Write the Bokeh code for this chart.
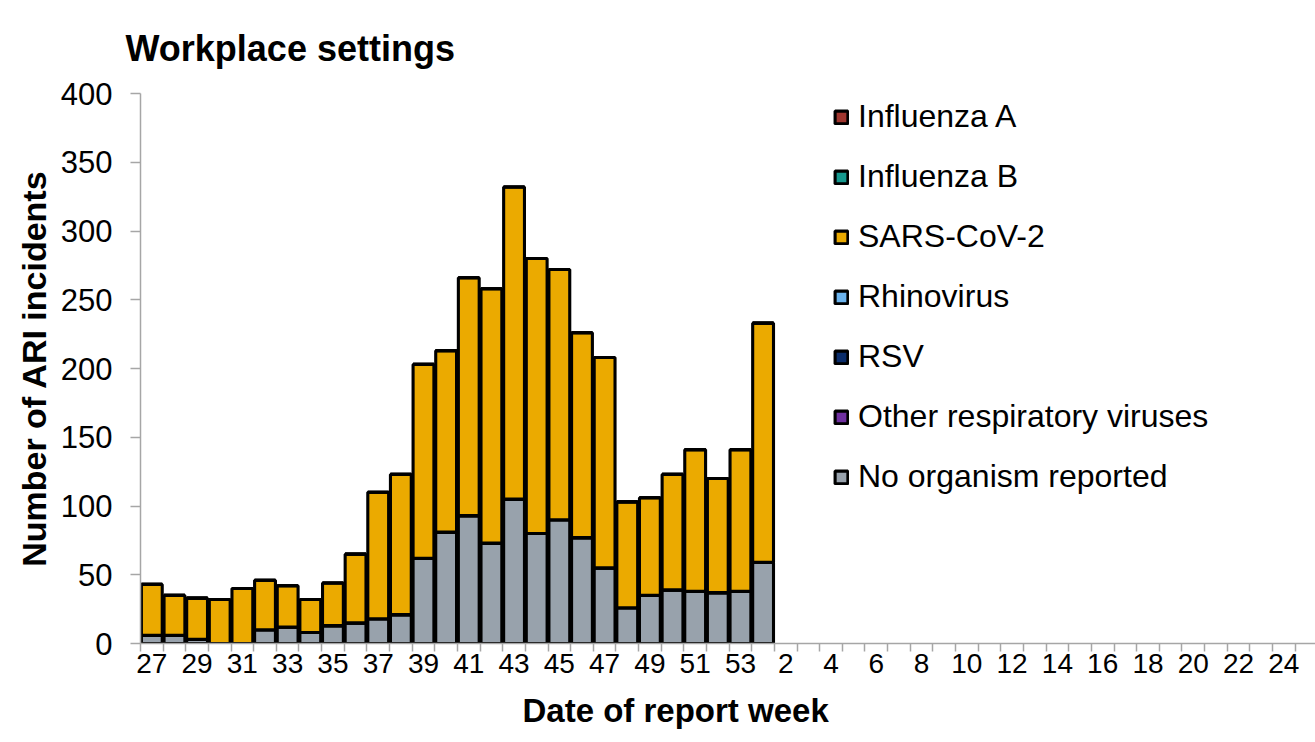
from bokeh.plotting import figure
from bokeh.models import Range1d, FixedTicker, Legend, LegendItem, ColumnDataSource, Title
from bokeh.embed import file_html
from bokeh.resources import INLINE

# ---- data ----
week_labels = ["27", "28", "29", "30", "31", "32", "33", "34", "35", "36", "37", "38", "39", "40",
               "41", "42", "43", "44", "45", "46", "47", "48", "49", "50", "51", "52", "53",
               "1", "2", "3", "4", "5", "6", "7", "8", "9", "10", "11", "12", "13", "14", "15",
               "16", "17", "18", "19", "20", "21", "22", "23", "24", "25", "26"]

report_weeks = ["27", "28", "29", "30", "31", "32", "33", "34", "35", "36", "37", "38", "39", "40",
                "41", "42", "43", "44", "45", "46", "47", "48", "49", "50", "51", "52", "53", "1"]

no_organism = [6, 6, 3, 0, 0, 10, 12, 8, 13, 15, 18, 21, 62, 81, 93, 73, 105, 80, 90, 77, 55,
               26, 35, 39, 38, 37, 38, 59]
other_resp = [0, 0, 0, 0, 0, 0, 0, 0, 0, 0, 0, 0, 0, 0, 0, 0, 0, 0, 0, 0, 0, 0, 0, 0, 0, 0, 0, 0]
rsv = [0, 0, 0, 0, 0, 0, 0, 0, 0, 0, 0, 0, 0, 0, 0, 0, 0, 0, 0, 0, 0, 0, 0, 0, 0, 0, 0, 0]
rhinovirus = [0, 0, 0, 0, 0, 0, 0, 0, 0, 0, 0, 0, 0, 0, 0, 0, 0, 0, 0, 0, 0, 0, 0, 0, 0, 0, 0, 0]
sars_cov_2 = [37, 29, 30, 32, 40, 36, 30, 24, 31, 50, 92, 102, 141, 132, 173, 185, 227, 200, 182,
              149, 153, 77, 71, 84, 103, 83, 103, 174]
influenza_b = [0, 0, 0, 0, 0, 0, 0, 0, 0, 0, 0, 0, 0, 0, 0, 0, 0, 0, 0, 0, 0, 0, 0, 0, 0, 0, 0, 0]
influenza_a = [0, 0, 0, 0, 0, 0, 0, 0, 0, 0, 0, 0, 0, 0, 0, 0, 0, 0, 0, 0, 0, 0, 0, 0, 0, 0, 0, 0]

y_ticks = [0, 50, 100, 150, 200, 250, 300, 350, 400]

# stack order bottom -> top
series_keys = ["no_organism", "other_resp", "rsv", "rhinovirus", "sars_cov_2", "influenza_b", "influenza_a"]
series_names = ["No organism reported", "Other respiratory viruses", "RSV", "Rhinovirus",
                "SARS-CoV-2", "Influenza B", "Influenza A"]
series_colors = ["#98a2ac", "#7030a0", "#0b2d6b", "#6cb4ee", "#ebaa00", "#16998f", "#a0362f"]

FONT = "Liberation Sans"

x_pos = [week_labels.index(w) if i < 27 else 27 for i, w in enumerate(report_weeks)]

source = ColumnDataSource(data=dict(
    x=x_pos, no_organism=no_organism, other_resp=other_resp, rsv=rsv, rhinovirus=rhinovirus,
    sars_cov_2=sars_cov_2, influenza_b=influenza_b, influenza_a=influenza_a))

p = figure(width=1315, height=742,
           x_range=Range1d(-0.5, 51.4), y_range=Range1d(0, 400),
           output_backend="svg", toolbar_location=None,
           min_border_left=140, min_border_right=0, min_border_top=0, min_border_bottom=40)

renderers = p.vbar_stack(series_keys, x="x", width=0.92, source=source,
                         fill_color=series_colors, line_color="black", line_width=3.1)

p.outline_line_color = None
p.xgrid.visible = False
p.ygrid.visible = False
p.background_fill_color = "white"

# title
p.title.text = "Workplace settings"
p.title.text_font = FONT
p.title.text_font_size = "36px"
p.title.text_font_style = "bold"
p.title.text_color = "black"
p.title.align = "left"
p.title.offset = -15
p.title.standoff = 50

# y axis
ya = p.yaxis[0]
ya.ticker = FixedTicker(ticks=y_ticks)
ya.axis_line_color = "#a6a6a6"
ya.axis_line_width = 1.5
ya.major_tick_line_color = "#a6a6a6"
ya.major_tick_line_width = 1.5
ya.major_tick_out = 10
ya.major_tick_in = 0
ya.minor_tick_line_color = None
ya.major_label_text_font = FONT
ya.major_label_text_font_size = "31px"
ya.major_label_text_color = "black"
ya.major_label_standoff = 18
ya.axis_label = "Number of ARI incidents"
ya.axis_label_text_font = FONT
ya.axis_label_text_font_size = "34px"
ya.axis_label_text_font_style = "bold"
ya.axis_label_text_color = "black"
ya.axis_label_standoff = 5

# x axis
xa = p.xaxis[0]
major = [i for i in range(0, len(week_labels), 2)]
minor = [i - 0.5 for i in range(0, len(week_labels) + 1)]
xa.ticker = FixedTicker(ticks=major, minor_ticks=minor)
xa.major_label_overrides = {i: week_labels[i] for i in major}
xa.axis_line_color = "#a6a6a6"
xa.axis_line_width = 1.5
xa.major_tick_line_color = None
xa.major_tick_out = 8
xa.major_tick_in = 0
xa.minor_tick_line_color = "#a6a6a6"
xa.minor_tick_line_width = 1.5
xa.minor_tick_out = 8
xa.minor_tick_in = 0
xa.major_label_text_font = FONT
xa.major_label_text_font_size = "28px"
xa.major_label_text_color = "black"
xa.major_label_standoff = 2

p.add_layout(Title(text="Date of report week", align="left", offset=382,
                   text_font=FONT, text_font_size="33px", text_font_style="bold",
                   text_color="black", standoff=28), "below")

# legend (top item = top of stack)
items = [LegendItem(label=series_names[i], renderers=[renderers[i]]) for i in range(len(series_keys) - 1, -1, -1)]
legend = Legend(items=items, location=(693, 148), orientation="vertical",
                label_text_font=FONT, label_text_font_size="32px", label_text_color="black",
                glyph_width=16, glyph_height=16, label_height=36, label_standoff=9,
                spacing=23, padding=0, margin=0,
                border_line_color=None, background_fill_alpha=0)
p.add_layout(legend, "center")

open("out.html", "w").write(file_html(p, INLINE))
